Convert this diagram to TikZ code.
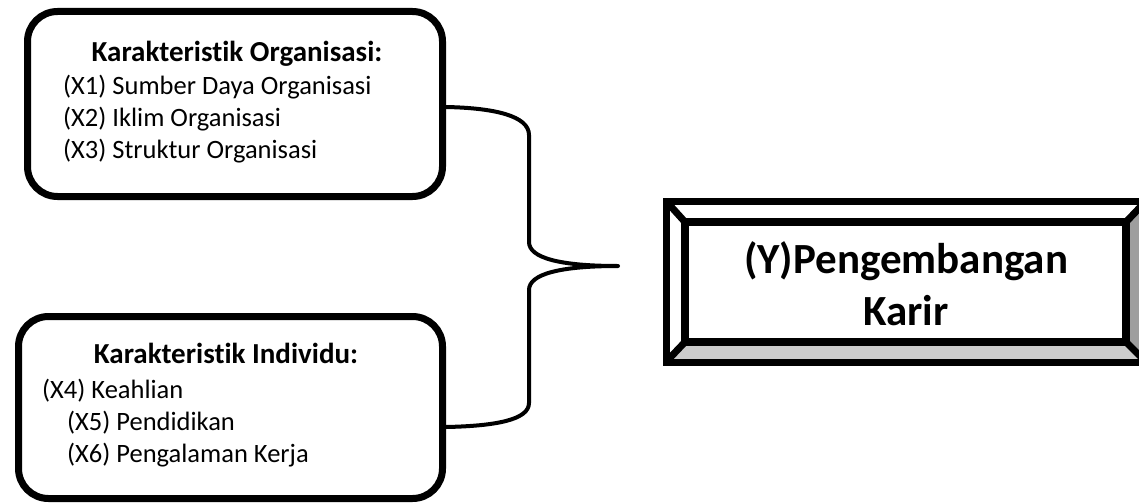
\documentclass[tikz,border=0pt]{standalone}
\usepackage{fontspec}
\setmainfont[Ligatures=NoCommon]{Carlito}
\begin{document}
\begin{tikzpicture}[x=1pt,y=-1pt,
  box/.style={draw,line width=7pt,rounded corners=30pt,inner sep=0pt},
  small/.style={font=\fontsize{26.5}{30}\selectfont,inner sep=0pt},
  smallb/.style={font=\fontsize{29}{32}\selectfont\bfseries,inner sep=0pt},
  big/.style={font=\fontsize{43}{50}\selectfont\bfseries,inner sep=0pt,anchor=base},
  brace/.style={line width=4pt,line cap=round,line join=round},
  bev/.style={line width=7pt,line join=miter}]
\useasboundingbox (0,0) rectangle (1139,503);
% top box
\node[box,minimum width=415pt,minimum height=185pt] (org) at (235,104) {};
\node[smallb,anchor=base] (orgh) at (237,62) {Karakteristik Organisasi:};
\node[small,anchor=base west] (x1) at (63,94) {(X1) Sumber Daya Organisasi};
\node[small,anchor=base west] (x2) at (63,126) {(X2) Iklim Organisasi};
\node[small,anchor=base west] (x3) at (63,158) {(X3) Struktur Organisasi};
% bottom box
\node[box,minimum width=424pt,minimum height=182pt] (ind) at (230.5,407.5) {};
\node[smallb,anchor=base] (indh) at (226,363) {Karakteristik Individu:};
\node[small,anchor=base west] (x4) at (42,398) {(X4) Keahlian};
\node[small,anchor=base west] (x5) at (67,430) {(X5) Pendidikan};
\node[small,anchor=base west] (x6) at (67,462) {(X6) Pengalaman Kerja};
% brace
\coordinate (tip) at (618,266);
\draw[brace] (org.east |- 0,107) .. controls (495,108) and (529,116) .. (529,135)
  -- (529,242) .. controls (529,258) and (560,266) .. (tip)
  .. controls (560,266) and (529,274) .. (529,290)
  -- (529,403) .. controls (529,420) and (495,426) .. (ind.east |- 0,427);
% bevel box
\coordinate (o1) at (666,201);
\coordinate (o2) at (1146,201);
\coordinate (o3) at (1146,362);
\coordinate (o4) at (666,362);
\node[minimum width=441pt,minimum height=120pt,inner sep=0pt] (y) at (905.5,282) {};
\fill[black!20] (o4) -- (o3) -- (y.south east) -- (y.south west) -- cycle;
\fill[black!38] (o2) -- (o3) -- (y.south east) -- (y.north east) -- cycle;
\draw[bev] (o1) rectangle (o3);
\draw[bev] (o1) -- (y.north west) (o2) -- (y.north east) (o3) -- (y.south east) (o4) -- (y.south west);
\draw[line width=8pt] (y.north west) rectangle (y.south east);
\node[big] (y1) at (906,273) {(Y)Pengembangan};
\node[big] (y2) at (906,325) {Karir};
\end{tikzpicture}
\end{document}
